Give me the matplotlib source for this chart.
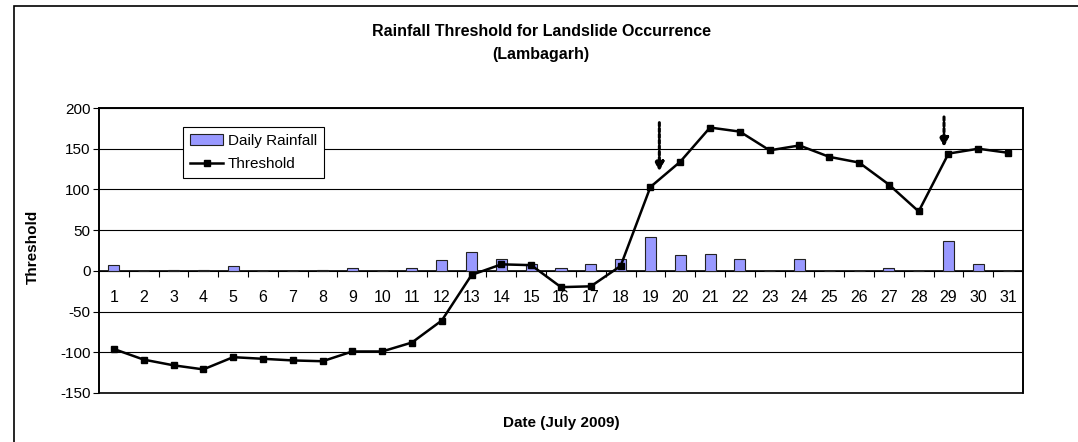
import matplotlib
matplotlib.use("Agg")
import matplotlib.pyplot as plt
from matplotlib.patches import Rectangle
from matplotlib.ticker import FixedLocator

plt.rcParams["font.family"] = ["Liberation Sans", "DejaVu Sans"]
plt.rcParams["axes.unicode_minus"] = False

days = list(range(1, 32))
rainfall = [7.5, 0, 1, 1, 6, 0, 0, 1, 4, 0, 4, 13, 23, 14, 9, 4, 8, 14,
            41, 19, 21, 14, 0, 14, 0, 0, 3, 0, 37, 9, 0]
threshold = [-96, -109, -116, -121, -106, -108, -110, -111, -99, -99, -88,
             -61, -5, 8, 7, -20, -19, 6, 103, 134, 176, 171, 148, 154, 140,
             133, 106, 73, 144, 150, 145]
y_ticks = [-150, -100, -50, 0, 50, 100, 150, 200]
# landslide events marked with dotted arrows: (day, arrow top, arrow tip)
events = [(19.3, 182, 122), (28.85, 189, 152)]

fig = plt.figure(figsize=(10.78, 4.42), dpi=100)
ax = fig.add_axes([99 / 1078, 49 / 442, 924 / 1078, 285 / 442])

bars = ax.bar(days, rainfall, width=0.37, color="#9999FF",
              edgecolor="#222222", linewidth=0.8, label="Daily Rainfall",
              zorder=3)
line, = ax.plot(days, threshold, color="black", linewidth=1.8, marker="s",
                markersize=5, label="Threshold", zorder=4)

for x, top, tip in events:
    ax.annotate("", xy=(x, tip), xytext=(x, top),
                arrowprops=dict(arrowstyle="-|>", color="black", lw=2.2,
                                linestyle=(0, (1.1, 0.8)), shrinkA=0, shrinkB=0,
                                mutation_scale=13),
                zorder=5)

ax.set_xlim(0.5, 31.5)
ax.set_ylim(-150, 200)
ax.set_yticks(y_ticks)
ax.tick_params(axis="y", direction="out", length=4, width=0.8, labelsize=11,
               pad=2)
ax.yaxis.grid(True, color="black", linewidth=0.8, zorder=1)
ax.set_axisbelow(True)

# category axis sits on the zero line, as in the spreadsheet chart
ax.spines["bottom"].set_position(("data", 0))
ax.spines["bottom"].set_linewidth(1.2)
ax.xaxis.set_major_locator(FixedLocator(days))
ax.set_xticklabels([str(d) for d in days])
ax.xaxis.set_minor_locator(FixedLocator([d + 0.5 for d in days[:-1]]))
ax.tick_params(axis="x", which="major", length=0, labelsize=11.5, pad=14)
ax.tick_params(axis="x", which="minor", direction="out", length=4, width=0.8)
for side in ["top", "left", "right"]:
    ax.spines[side].set_linewidth(1.2)
ax.add_patch(Rectangle((0, 0), 1, 1, transform=ax.transAxes, fill=False,
                       edgecolor="black", linewidth=1.2, clip_on=False,
                       zorder=6))

leg = ax.legend([bars, line], ["Daily Rainfall", "Threshold"],
                loc="upper left", bbox_to_anchor=(0.0909, 0.933), fontsize=11,
                frameon=True, fancybox=False, edgecolor="black",
                borderpad=0.45, handlelength=2.2, handletextpad=0.3,
                labelspacing=0.6, borderaxespad=0)
leg.get_frame().set_linewidth(0.8)
leg.get_frame().set_alpha(1)

fig.text(541 / 1078, 1 - 24 / 442,
         "Rainfall Threshold for Landslide Occurrence\n(Lambagarh)",
         ha="center", va="top", fontsize=11.5, fontweight="bold",
         linespacing=1.7)
fig.text(561 / 1078, 19 / 442, "Date (July 2009)", ha="center", va="center",
         fontsize=11, fontweight="bold")
fig.text(33 / 1078, 1 - 247 / 442, "Threshold", ha="center", va="center",
         rotation=90, fontsize=11, fontweight="bold")

fig.add_artist(Rectangle((14 / 1078, -0.1), 1.2, 1.1 - 6 / 442,
                         transform=fig.transFigure, fill=False,
                         edgecolor="black", linewidth=1.2))

fig.savefig("out.png", dpi=100)
